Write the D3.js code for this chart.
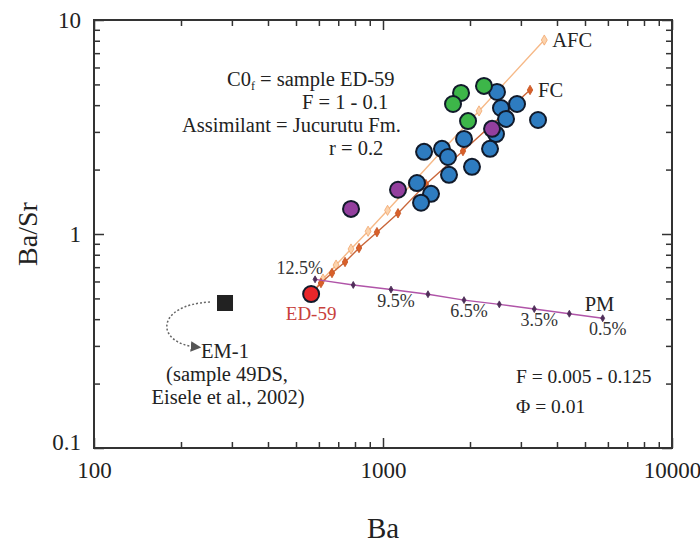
<!DOCTYPE html>
<html>
<head>
<meta charset="utf-8">
<script src="https://cdnjs.cloudflare.com/ajax/libs/d3/7.8.5/d3.min.js"></script>
<style>
  body { margin: 0; background: #fff; }
  text { font-family: "Liberation Serif", "Times New Roman", serif; fill: #222; }
</style>
</head>
<body>
<div class="graph"></div>
<script>
// samples (Ba ppm, Ba/Sr)
var blueBa   = [2480, 2909, 2560, 2665, 3439, 2460, 2346, 1907, 1387, 1600, 1678, 2032, 1692, 1311, 1466, 1354];
var blueBaSr = [4.61, 4.05, 3.88, 3.45, 3.41, 2.93, 2.50, 2.78, 2.42, 2.50, 2.29, 2.06, 1.89, 1.73, 1.54, 1.40];
var greenBa   = [1862, 1747, 2236, 1969];
var greenBaSr = [4.56, 4.05, 4.92, 3.37];
var purpleBa   = [2384, 1127, 775];
var purpleBaSr = [3.10, 1.61, 1.31];
var ed59 = [564, 0.524];
var em1 = [284, 0.476];

// model curves
var fcBa   = [564, 610, 666, 739, 826, 953, 1127, 1408, 1891, 3227];
var fcBaSr = [0.524, 0.590, 0.657, 0.740, 0.860, 1.02, 1.25, 1.71, 2.44, 4.71];
var afcBa   = [564, 620, 688, 775, 888, 1037, 1250, 1575, 2149, 3615];
var afcBaSr = [0.524, 0.616, 0.716, 0.851, 1.03, 1.29, 1.70, 2.39, 3.76, 8.06];
var pmBa   = [582, 789, 1066, 1431, 1907, 2526, 3338, 4413, 5757];
var pmBaSr = [0.614, 0.578, 0.550, 0.523, 0.491, 0.469, 0.446, 0.424, 0.404];
var pmMelt = ["12.5%", "11%", "9.5%", "8%", "6.5%", "5%", "3.5%", "2%", "0.5%"];
var pmShown = ["9.5%", "6.5%", "3.5%", "0.5%"];

var xMajor = [100, 1000, 10000];
var yMajor = [0.1, 1, 10];
var xMinor = [200, 300, 400, 500, 600, 700, 800, 900, 2000, 3000, 4000, 5000, 6000, 7000, 8000, 9000];
var yMinor = [0.2, 0.3, 0.4, 0.5, 0.6, 0.7, 0.8, 0.9, 2, 3, 4, 5, 6, 7, 8, 9];

var width = 700, height = 547;
var plotL = 94, plotR = 672, plotT = 20, plotB = 448;

var svg = d3.select(".graph").append("svg")
  .attr("width", width)
  .attr("height", height);

var xScale = d3.scaleLog().domain([100, 10000]).range([plotL, plotR]);
var yScale = d3.scaleLog().domain([0.1, 10]).range([plotB, plotT]);

function pts(xs, ys) {
  return xs.map(function(v, i) { return [v, ys[i]]; });
}

// ticks, all inward
function addAxis(axis, tx, ty, vals, size, withLabels) {
  var g = svg.append("g")
    .attr("transform", "translate(" + tx + "," + ty + ")")
    .call(axis.tickValues(vals).tickSize(-size)
      .tickFormat(withLabels ? function(d) { return String(d); } : function() { return ""; }));
  g.select(".domain").remove();
  g.selectAll("line").attr("stroke", "#333").attr("stroke-width", 1.5);
  return g;
}
addAxis(d3.axisBottom(xScale), 0, plotB, xMinor, 6, false);
addAxis(d3.axisTop(xScale), 0, plotT, xMinor, 6, false);
addAxis(d3.axisLeft(yScale), plotL, 0, yMinor, 6, false);
addAxis(d3.axisRight(yScale), plotR, 0, yMinor, 6, false);

var xa = addAxis(d3.axisBottom(xScale).tickPadding(14), 0, plotB, xMajor, 10, true);
xa.selectAll("text").attr("font-size", 23).attr("fill", "#222")
  .style("font-family", "'Liberation Serif', 'Times New Roman', serif");
var ya = addAxis(d3.axisLeft(yScale).tickPadding(13), plotL, 0, yMajor, 10, true);
ya.selectAll("text").attr("font-size", 23).attr("fill", "#222")
  .style("font-family", "'Liberation Serif', 'Times New Roman', serif")
  .attr("dy", function(d) { return d === 0.1 ? "0.05em" : "0.32em"; });
addAxis(d3.axisTop(xScale), 0, plotT, xMajor, 10, false);
addAxis(d3.axisRight(yScale), plotR, 0, yMajor, 10, false);

svg.append("rect")
  .attr("x", plotL).attr("y", plotT)
  .attr("width", plotR - plotL).attr("height", plotB - plotT)
  .attr("fill", "none").attr("stroke", "#333").attr("stroke-width", 2);

// axis titles
svg.append("text")
  .attr("x", (plotL + plotR) / 2).attr("y", 538)
  .attr("text-anchor", "middle").attr("font-size", 29)
  .text("Ba");
svg.append("text")
  .attr("transform", "translate(37," + (plotT + plotB) / 2 + ") rotate(-90)")
  .attr("text-anchor", "middle").attr("font-size", 28)
  .text("Ba/Sr");

// model lines
var line = d3.line().x(function(d) { return xScale(d[0]); }).y(function(d) { return yScale(d[1]); });
var diamond = d3.symbol().type(d3.symbolDiamond);

function drawModel(data, lineColor, mFill, mStroke, mSize) {
  svg.append("path").datum(data)
    .attr("d", line).attr("fill", "none")
    .attr("stroke", lineColor).attr("stroke-width", 1.4);
  svg.selectAll(null).data(data).enter().append("path")
    .attr("d", diamond.size(mSize))
    .attr("transform", function(d) { return "translate(" + xScale(d[0]) + "," + yScale(d[1]) + ")"; })
    .attr("fill", mFill).attr("stroke", mStroke).attr("stroke-width", 0.8);
}
drawModel(pts(afcBa, afcBaSr), "#f6b988", "#fcd3ad", "#f1a66c", 30);
drawModel(pts(fcBa, fcBaSr), "#c9663a", "#d9602a", "#c4521f", 26);
drawModel(pts(pmBa, pmBaSr), "#b054a8", "#4e2d58", "#4e2d58", 14);

// samples
function drawCircles(xs, ys, fill) {
  svg.selectAll(null).data(pts(xs, ys)).enter().append("circle")
    .attr("cx", function(d) { return xScale(d[0]); })
    .attr("cy", function(d) { return yScale(d[1]); })
    .attr("r", 8)
    .attr("fill", fill)
    .attr("stroke", "#111a2a").attr("stroke-width", 2);
}
drawCircles(blueBa, blueBaSr, "#2e7cc0");
drawCircles(greenBa, greenBaSr, "#3db649");
drawCircles(purpleBa, purpleBaSr, "#933f9e");
drawCircles([ed59[0]], [ed59[1]], "#e8262a");

svg.append("rect")
  .attr("x", xScale(em1[0]) - 8).attr("y", yScale(em1[1]) - 8)
  .attr("width", 16).attr("height", 16)
  .attr("fill", "#222");

// dotted arrow to EM-1 label
svg.append("defs").append("marker")
  .attr("id", "arr").attr("viewBox", "0 0 10 10")
  .attr("refX", 5).attr("refY", 5)
  .attr("markerWidth", 7).attr("markerHeight", 7)
  .attr("orient", "auto")
  .append("path").attr("d", "M0,0L10,5L0,10z").attr("fill", "#555");
var ex = xScale(em1[0]), ey = yScale(em1[1]);
svg.append("path")
  .attr("d", "M" + (ex - 15) + "," + (ey - 1) +
    " C" + (ex - 70) + "," + (ey + 2) + " " + (ex - 70) + "," + (ey + 40) + " " + (ex - 29) + "," + (ey + 44))
  .attr("fill", "none").attr("stroke", "#666").attr("stroke-width", 1.5)
  .attr("stroke-dasharray", "2,2").attr("marker-end", "url(#arr)");

// labels
function label(x, y, txt, size, anchor, color) {
  return svg.append("text").attr("x", x).attr("y", y)
    .attr("font-size", size).attr("text-anchor", anchor || "start")
    .style("fill", color || "#222").text(txt);
}
var n = afcBa.length - 1;
label(xScale(afcBa[n]) + 8, yScale(afcBaSr[n]) + 7, "AFC", 20.5);
label(xScale(fcBa[n]) + 8, yScale(fcBaSr[n]) + 7, "FC", 20.5);
var m = pmBa.length - 1;
label(xScale(pmBa[m]) - 18, yScale(pmBaSr[m]) - 7, "PM", 20.5);
label(xScale(pmBa[0]) + 8, yScale(pmBaSr[0]) - 5, pmMelt[0], 18, "end", "#333");
pmMelt.forEach(function(t, i) {
  if (pmShown.indexOf(t) < 0) return;
  label(xScale(pmBa[i]) + 5, yScale(pmBaSr[i]) + 17, t, 18, "middle", "#333");
});
label(xScale(ed59[0]), yScale(ed59[1]) + 26, "ED-59", 19, "middle", "#c8413c");

label(ex, ey + 55, "EM-1", 20.5, "middle");
label(ex + 2, ey + 78, "(sample 49DS,", 20.5, "middle");
label(ex + 3, ey + 101, "Eisele et al., 2002)", 20.5, "middle");

var c0 = label(227, 86, "C0", 20.5);
c0.append("tspan").attr("font-size", 12).attr("dy", 4).text("f");
c0.append("tspan").attr("dy", -4).text(" = sample ED-59");
label(302, 109, "F = 1 - 0.1", 20.5);
label(182, 132, "Assimilant = Jucurutu Fm.", 20.5);
label(329, 155, "r = 0.2", 20.5);

label(516, 383, "F = 0.005 - 0.125", 19.5);
label(516, 413, "\u03A6 = 0.01", 19.5);
</script>
</body>
</html>
